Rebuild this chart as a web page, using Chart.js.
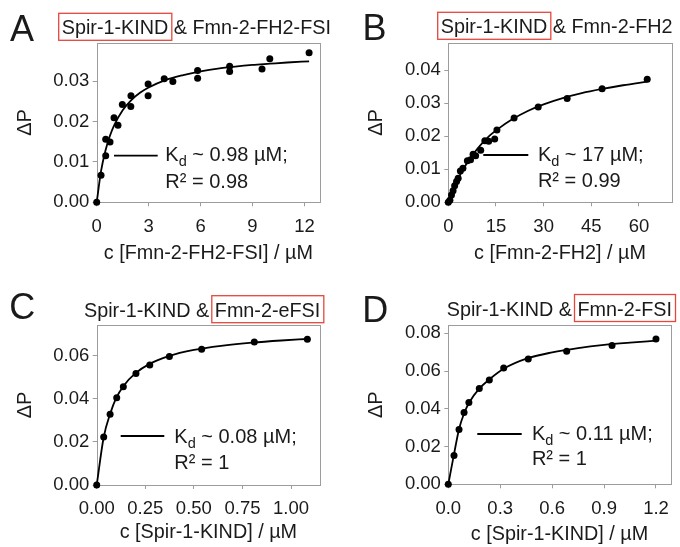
<!DOCTYPE html>
<html>
<head>
<meta charset="utf-8">
<script src="https://cdn.jsdelivr.net/npm/chart.js@4.4.1/dist/chart.umd.min.js"></script>
<style>
  html, body { margin:0; padding:0; background:#fff; }
  #wrap { position:relative; width:680px; height:547px; }
  #wrap canvas { position:absolute; }
</style>
</head>
<body>
<div id="wrap">
  <canvas id="cA" width="340" height="270" style="left:0;top:0;width:340px;height:270px"></canvas>
  <canvas id="cB" width="340" height="270" style="left:340px;top:0;width:340px;height:270px"></canvas>
  <canvas id="cC" width="340" height="277" style="left:0;top:270px;width:340px;height:277px"></canvas>
  <canvas id="cD" width="340" height="277" style="left:340px;top:270px;width:340px;height:277px"></canvas>
</div>
<script>
/***** data *****/
// A: Spir-1-KIND & Fmn-2-FH2-FSI
const xA = [0, 0.25, 0.52, 0.52, 0.77, 1.0, 1.23, 1.48, 1.97, 1.98, 2.97, 2.97, 3.9, 4.4, 5.83, 5.83, 7.68, 7.68, 9.55, 10.0, 12.27];
const yA = [0, 0.0067, 0.0115, 0.0156, 0.0149, 0.0209, 0.0191, 0.0242, 0.0237, 0.0264, 0.0264, 0.0293, 0.0306, 0.0299, 0.0326, 0.0307, 0.0337, 0.0324, 0.0330, 0.0355, 0.0370];
const fitXA = [0, 0.25, 0.5, 0.75, 1, 1.5, 2, 2.5, 3, 4, 5, 6, 7, 8, 9, 10, 11, 12.27];
const fitYA = [0, 0.0077, 0.0127, 0.0163, 0.0190, 0.0228, 0.0253, 0.0271, 0.0284, 0.0303, 0.0315, 0.0324, 0.0331, 0.0336, 0.0340, 0.0343, 0.0346, 0.0349];
const xTicksA = [0, 3, 6, 9, 12];
const xLabelsA = ["0", "3", "6", "9", "12"];
const yTicksA = [0, 0.01, 0.02, 0.03];
const yLabelsA = ["0.00", "0.01", "0.02", "0.03"];

// B: Spir-1-KIND & Fmn-2-FH2
const xB = [0, 0.5, 1.0, 1.5, 2.0, 2.6, 3.1, 3.8, 4.6, 6.0, 7.0, 7.8, 8.6, 10.2, 11.5, 12.7, 14.6, 15.3, 20.7, 28.3, 37.4, 48.4, 62.6];
const yB = [0, 0.0006, 0.0022, 0.0035, 0.0050, 0.0063, 0.0073, 0.0095, 0.0103, 0.0126, 0.0129, 0.0146, 0.0141, 0.0158, 0.0187, 0.0185, 0.0192, 0.0219, 0.0256, 0.0289, 0.0315, 0.0344, 0.0373];
const fitXB = [0, 1, 2, 4, 6, 8, 10, 13, 16, 20, 25, 30, 36, 42, 48, 55, 62.6];
const fitYB = [0, 0.0026, 0.0049, 0.0089, 0.0121, 0.0148, 0.0172, 0.0202, 0.0225, 0.0251, 0.0277, 0.0297, 0.0316, 0.0331, 0.0343, 0.0355, 0.0366];
const xTicksB = [0, 15, 30, 45, 60];
const xLabelsB = ["0", "15", "30", "45", "60"];
const yTicksB = [0, 0.01, 0.02, 0.03, 0.04];
const yLabelsB = ["0.00", "0.01", "0.02", "0.03", "0.04"];

// C: Spir-1-KIND & Fmn-2-eFSI
const xC = [0, 0.036, 0.069, 0.103, 0.137, 0.202, 0.273, 0.374, 0.54, 0.811, 1.084];
const yC = [0, 0.0223, 0.0329, 0.0406, 0.0457, 0.0518, 0.0558, 0.0597, 0.0631, 0.0665, 0.0678];
const fitXC = [0, 0.036, 0.07, 0.1, 0.14, 0.2, 0.27, 0.37, 0.5, 0.65, 0.8, 0.95, 1.084];
const fitYC = [0, 0.0222, 0.0333, 0.0404, 0.0463, 0.0520, 0.0562, 0.0599, 0.0628, 0.0648, 0.0662, 0.0672, 0.0679];
const xTicksC = [0, 0.25, 0.5, 0.75, 1.0];
const xLabelsC = ["0.00", "0.25", "0.50", "0.75", "1.00"];
const yTicksC = [0, 0.02, 0.04, 0.06];
const yLabelsC = ["0.00", "0.02", "0.04", "0.06"];

// D: Spir-1-KIND & Fmn-2-FSI
const xD = [0, 0.033, 0.062, 0.091, 0.119, 0.179, 0.237, 0.32, 0.462, 0.684, 0.946, 1.2];
const yD = [0, 0.0152, 0.0291, 0.0381, 0.0433, 0.0507, 0.0553, 0.0616, 0.0664, 0.0705, 0.0736, 0.0770];
const fitXD = [0, 0.033, 0.062, 0.091, 0.12, 0.18, 0.24, 0.32, 0.46, 0.6, 0.75, 0.9, 1.05, 1.2];
const fitYD = [0, 0.0160, 0.0292, 0.0375, 0.0432, 0.0508, 0.0558, 0.0612, 0.0668, 0.0699, 0.0722, 0.0739, 0.0751, 0.0761];
const xTicksD = [0, 0.3, 0.6, 0.9, 1.2];
const xLabelsD = ["0.0", "0.3", "0.6", "0.9", "1.2"];
const yTicksD = [0, 0.02, 0.04, 0.06, 0.08];
const yLabelsD = ["0.00", "0.02", "0.04", "0.06", "0.08"];

/***** style *****/
const FONT = "'Liberation Sans', Arial, sans-serif";
const INK = "#1a1a1a";
const FRAME = "#9c9c9c";
const RED = "#e5473d";

const byId = (id) => document.getElementById(id);
const pts = (xs, ys) => xs.map((x, i) => ({ x, y: ys[i] }));

/***** plugin: frame, panel letter, title, Kd note *****/
const panelDeco = {
  id: "panelDeco",
  beforeDatasetsDraw(chart){
    const { left, top, right, bottom } = chart.chartArea;
    const ctx = chart.ctx;
    ctx.save();
    ctx.strokeStyle = FRAME;
    ctx.lineWidth = 1;
    const l = Math.round(left) + 0.5, t = Math.round(top) + 0.5;
    ctx.strokeRect(l, t, Math.round(right) - Math.round(left), Math.round(bottom) - Math.round(top));
    ctx.restore();
  },
  afterDraw(chart, args, o){
    const ctx = chart.ctx;
    ctx.save();
    ctx.fillStyle = INK;
    ctx.textAlign = "left";
    ctx.textBaseline = "alphabetic";

    // letter
    ctx.font = `36px ${FONT}`;
    ctx.fillText(o.letter, o.letterX, o.letterY);

    // title, red box round one part
    ctx.font = `19.8px ${FONT}`;
    let x = o.titleX;
    o.title.forEach(part => {
      const w = ctx.measureText(part.text).width;
      if(part.boxed){
        ctx.strokeStyle = RED;
        ctx.lineWidth = 1.3;
        ctx.strokeRect(x - 3, o.titleY - 21, w + 6.5, 27);
      }
      ctx.fillText(part.text, x, o.titleY);
      x += w;
    });

    // Kd note with line sample
    const n = o.note;
    ctx.strokeStyle = "#000";
    ctx.lineWidth = 1.8;
    ctx.beginPath();
    ctx.moveTo(n.x0, n.ly);
    ctx.lineTo(n.x1, n.ly);
    ctx.stroke();
    ctx.font = `20px ${FONT}`;
    ctx.fillText("K", n.tx, n.y1);
    let w = ctx.measureText("K").width;
    ctx.font = `14.5px ${FONT}`;
    ctx.fillText("d", n.tx + w, n.y1 + 4.5);
    w += ctx.measureText("d").width;
    ctx.font = `20px ${FONT}`;
    ctx.fillText(` ~ ${n.kd} µM;`, n.tx + w, n.y1);
    ctx.fillText(`R² = ${n.r2}`, n.tx, n.y2);
    ctx.restore();
  }
};

/***** chart builder *****/
function makePanel(id, c){
  return new Chart(byId(id), {
    type: "scatter",
    data: {
      datasets: [
        {
          type: "line",
          data: pts(c.fitX, c.fitY),
          borderColor: "#000",
          borderWidth: 1.8,
          pointRadius: 0,
          cubicInterpolationMode: "monotone",
          fill: false,
          clip: false,
          order: 2
        },
        {
          data: pts(c.x, c.y),
          pointRadius: 3.5,
          pointBackgroundColor: "#000",
          pointBorderWidth: 0,
          clip: false,
          order: 1
        }
      ]
    },
    options: {
      responsive: false,
      animation: false,
      devicePixelRatio: 1,
      layout: { padding: { top: c.padTop, right: c.padRight, left: 0, bottom: 0 } },
      plugins: {
        legend: { display: false },
        tooltip: { enabled: false },
        panelDeco: c.deco
      },
      scales: {
        x: {
          type: "linear",
          min: 0,
          max: c.xMax,
          afterBuildTicks: s => { s.ticks = c.xTicks.map(v => ({ value: v })); },
          afterFit: s => { s.height = c.xH; },
          ticks: {
            callback: (v, i) => c.xLabels[i],
            font: { family: FONT, size: 18.5 },
            color: INK,
            padding: 9.3,
            maxRotation: 0,
            autoSkip: false
          },
          grid: { drawOnChartArea: false, tickLength: 4, color: FRAME },
          border: { display: false },
          title: {
            display: true,
            text: c.xTitle,
            font: { family: FONT, size: 19.8 },
            color: INK,
            padding: { top: 0, bottom: c.xTitlePad }
          }
        },
        y: {
          type: "linear",
          min: 0,
          max: c.yMax,
          afterBuildTicks: s => { s.ticks = c.yTicks.map(v => ({ value: v })); },
          afterFit: s => { s.width = c.yW; },
          ticks: {
            callback: (v, i) => c.yLabels[i],
            font: { family: FONT, size: 18.5 },
            color: INK,
            padding: 3.4,
            autoSkip: false
          },
          grid: { drawOnChartArea: false, tickLength: 4, color: FRAME },
          border: { display: false },
          title: {
            display: true,
            text: "ΔP",
            font: { family: FONT, size: 20 },
            color: INK,
            padding: { top: c.yTitlePad, bottom: 0 }
          }
        }
      }
    },
    plugins: [panelDeco]
  });
}

/***** panels *****/
function init(){
  makePanel("cA", {
    x: xA, y: yA, fitX: fitXA, fitY: fitYA,
    xTicks: xTicksA, xLabels: xLabelsA, yTicks: yTicksA, yLabels: yLabelsA,
    xMax: 12.9, yMax: 0.0395,
    padTop: 42.7, padRight: 20, yW: 96.7, xH: 67.7, xTitlePad: 4.5, yTitlePad: 13,
    xTitle: "c [Fmn-2-FH2-FSI] / µM",
    deco: {
      letter: "A", letterX: 10, letterY: 40.7,
      titleX: 61.7, titleY: 34.3,
      title: [{ text: "Spir-1-KIND", boxed: true }, { text: " & Fmn-2-FH2-FSI" }],
      note: { x0: 114, x1: 157.7, ly: 155.7, tx: 165.3, y1: 161, y2: 188.3, kd: "0.98", r2: "0.98" }
    }
  });
  makePanel("cB", {
    x: xB, y: yB, fitX: fitXB, fitY: fitYB,
    xTicks: xTicksB, xLabels: xLabelsB, yTicks: yTicksB, yLabels: yLabelsB,
    xMax: 70.3, yMax: 0.0484,
    padTop: 42.7, padRight: 8.3, yW: 108.3, xH: 67.7, xTitlePad: 4.5, yTitlePad: 24.7,
    xTitle: "c [Fmn-2-FH2] / µM",
    deco: {
      letter: "B", letterX: 22.4, letterY: 40,
      titleX: 100.7, titleY: 33.3,
      title: [{ text: "Spir-1-KIND", boxed: true }, { text: " & Fmn-2-FH2" }],
      note: { x0: 143.3, x1: 188.3, ly: 155, tx: 197.9, y1: 161, y2: 186.7, kd: "17", r2: "0.99" }
    }
  });
  makePanel("cC", {
    x: xC, y: yC, fitX: fitXC, fitY: fitYC,
    xTicks: xTicksC, xLabels: xLabelsC, yTicks: yTicksC, yLabels: yLabelsC,
    xMax: 1.149, yMax: 0.0744,
    padTop: 55, padRight: 20, yW: 96.7, xH: 62, xTitlePad: 2.8, yTitlePad: 13,
    xTitle: "c [Spir-1-KIND] / µM",
    deco: {
      letter: "C", letterX: 9.2, letterY: 48.8,
      titleX: 84, titleY: 46.7,
      title: [{ text: "Spir-1-KIND & " }, { text: "Fmn-2-eFSI", boxed: true }],
      note: { x0: 120.7, x1: 164.3, ly: 166, tx: 174.3, y1: 173.3, y2: 198.5, kd: "0.08", r2: "1" }
    }
  });
  makePanel("cD", {
    x: xD, y: yD, fitX: fitXD, fitY: fitYD,
    xTicks: xTicksD, xLabels: xLabelsD, yTicks: yTicksD, yLabels: yLabelsD,
    xMax: 1.285, yMax: 0.0844,
    padTop: 55, padRight: 9.3, yW: 108.3, xH: 62.7, xTitlePad: 0.5, yTitlePad: 24.7,
    xTitle: "c [Spir-1-KIND] / µM",
    deco: {
      letter: "D", letterX: 22.2, letterY: 51.5,
      titleX: 106.7, titleY: 45.5,
      title: [{ text: "Spir-1-KIND & " }, { text: "Fmn-2-FSI", boxed: true }],
      note: { x0: 137.3, x1: 181.7, ly: 164, tx: 191.9, y1: 170, y2: 195, kd: "0.11", r2: "1" }
    }
  });
}
init();
</script>
</body>
</html>
